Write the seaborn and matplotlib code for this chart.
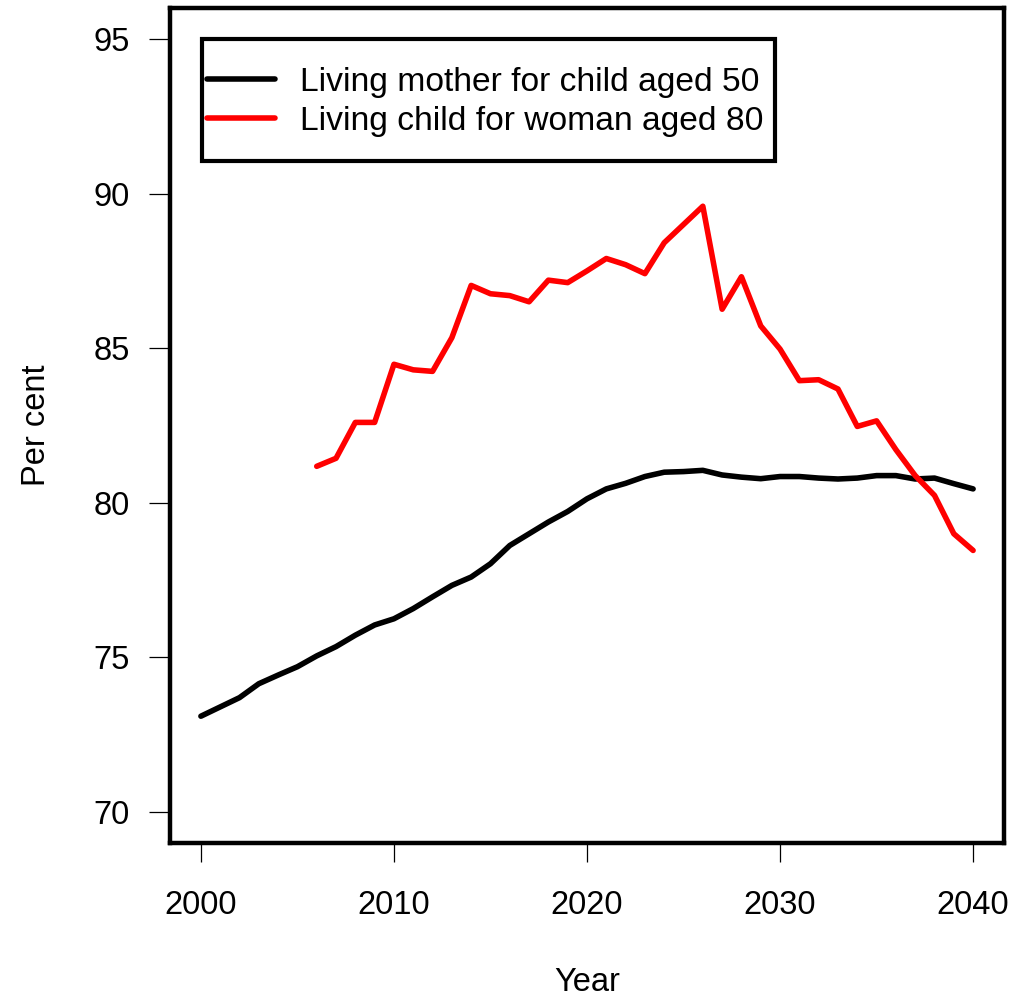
import numpy as np
import pandas as pd
import matplotlib
matplotlib.use("Agg")
import matplotlib.pyplot as plt
from matplotlib.patches import Rectangle
import seaborn as sns

# values
years_mother = list(range(2000, 2041))
mother_50 = [73.1, 73.4, 73.7, 74.15, 74.43, 74.7, 75.05, 75.35, 75.72, 76.05,
             76.25, 76.58, 76.96, 77.33, 77.6, 78.03, 78.62, 79.0, 79.38, 79.72,
             80.13, 80.45, 80.63, 80.85, 80.99, 81.01, 81.05, 80.9, 80.83, 80.78,
             80.85, 80.85, 80.8, 80.77, 80.8, 80.88, 80.88, 80.77, 80.8, 80.62,
             80.45]

years_child = list(range(2006, 2041))
child_80 = [81.18, 81.44, 82.6, 82.6, 84.48, 84.3, 84.25, 85.34, 87.03, 86.76,
            86.7, 86.5, 87.2, 87.12, 87.5, 87.9, 87.7, 87.41, 88.41, 89.0,
            89.59, 86.26, 87.31, 85.72, 84.97, 83.95, 83.98, 83.68, 82.47, 82.65,
            81.72, 80.88, 80.24, 79.0, 78.46]

labels = ["Living mother for child aged 50", "Living child for woman aged 80"]
x_ticks = [2000, 2010, 2020, 2030, 2040]
y_ticks = [70, 75, 80, 85, 90, 95]

df_m = pd.DataFrame({"Year": years_mother, "pct": mother_50})
df_c = pd.DataFrame({"Year": years_child, "pct": child_80})

sns.set_style("white")
plt.rcParams["font.family"] = ["Liberation Sans", "DejaVu Sans"]
plt.rcParams["text.color"] = "black"
plt.rcParams["axes.labelcolor"] = "black"
plt.rcParams["xtick.color"] = "black"
plt.rcParams["ytick.color"] = "black"

fs = 23.5

fig, ax = plt.subplots(figsize=(10.14, 9.98), dpi=100)
fig.subplots_adjust(left=170/1014, right=1004/1014, top=1-8/998, bottom=1-843/998)

sns.lineplot(data=df_m, x="Year", y="pct", color="black", lw=4,
             solid_capstyle="round", solid_joinstyle="round", ax=ax, label=labels[0])
sns.lineplot(data=df_c, x="Year", y="pct", color="red", lw=4,
             solid_capstyle="round", solid_joinstyle="round", ax=ax, label=labels[1])

ax.set_xlim(1998.4, 2041.6)
ax.set_ylim(69, 96)
ax.set_xticks(x_ticks)
ax.set_yticks(y_ticks)
ax.tick_params(axis="both", direction="out", width=0.9, color="black",
               labelsize=fs, bottom=True, left=True, labelcolor="black")
ax.tick_params(axis="x", length=14, pad=20)
ax.tick_params(axis="y", length=15, pad=14)
for s in ax.spines.values():
    s.set_linewidth(3.2)
    s.set_color("black")

ax.set_xlabel("Year", fontsize=fs)
ax.set_ylabel("Per cent", fontsize=fs)
ax.xaxis.set_label_coords(0.5, -0.149)
ax.yaxis.set_label_coords(-0.141, 0.5)

# legend box
ax.add_patch(Rectangle((0.0384, 0.8168), 0.687, 0.1461, transform=ax.transAxes,
                       fill=False, edgecolor="black", lw=3.0, zorder=5))
leg = ax.legend(loc="center left", bbox_to_anchor=(0.0444, 0.8875), frameon=False,
                fontsize=24.2, handlelength=2.02, handletextpad=0.75,
                labelspacing=0.25, borderpad=0, borderaxespad=0)
for h in leg.get_lines():
    h.set_linewidth(4)
    h.set_solid_capstyle("round")

fig.savefig("out.png", dpi=100, facecolor="white")
